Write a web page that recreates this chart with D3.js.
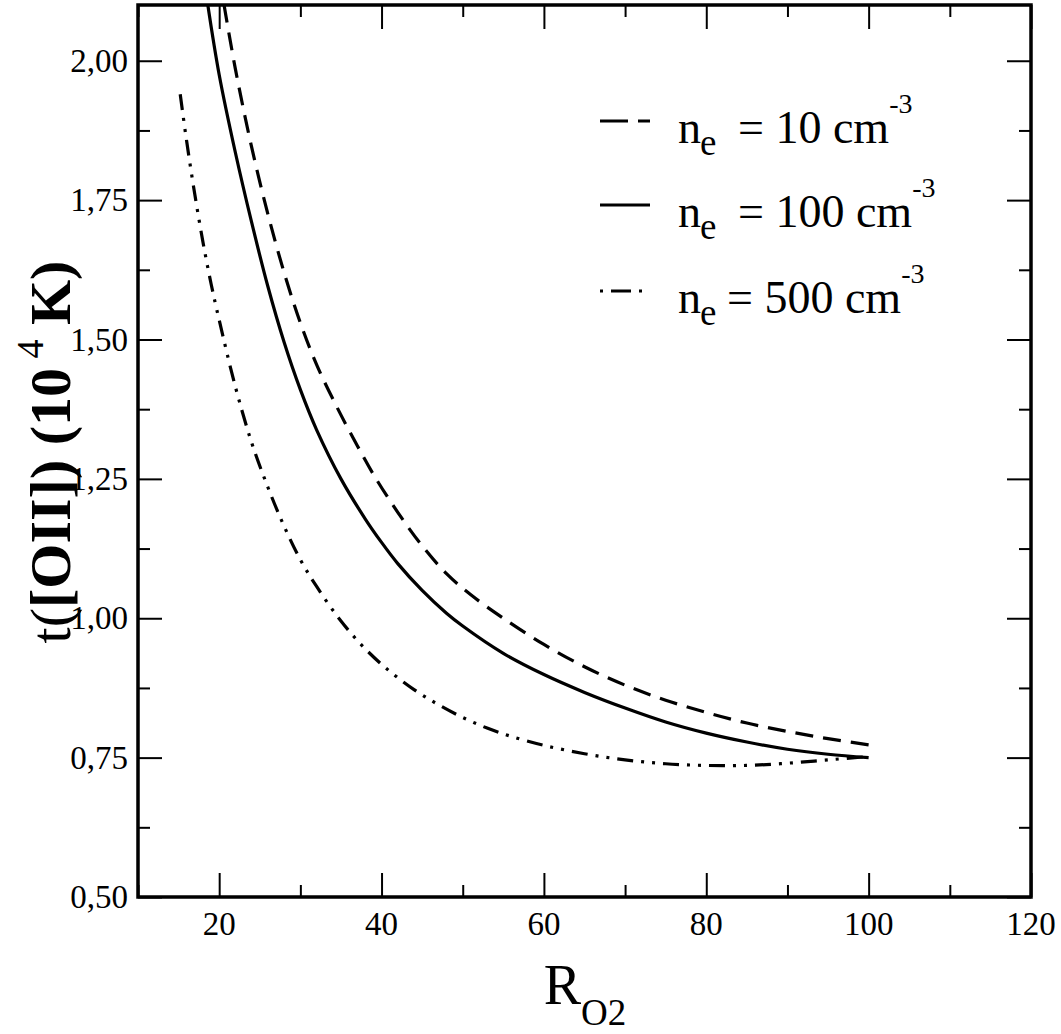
<!DOCTYPE html>
<html>
<head>
<meta charset="utf-8">
<script src="https://cdn.jsdelivr.net/npm/d3@7"></script>
<style>
  html, body { margin: 0; padding: 0; background: #fff; font-family: 'Liberation Serif', serif; }
  #chart text, #chart tspan { font-family: 'Liberation Serif', Tinos, 'Times New Roman', serif !important; }
</style>
</head>
<body>
<svg id="chart" width="1061" height="1034" font-family="Liberation Serif, serif" style="display:block;font-family:'Liberation Serif',serif"></svg>
<script>
// ---- data ----
const xDomain = [10, 120];
const yDomain = [0.5, 2.1];
const xMajorTicks = [20, 40, 60, 80, 100, 120];
const xMinorTicks = [10, 30, 50, 70, 90, 110];
const yMajorTicks = [0.5, 0.75, 1.0, 1.25, 1.5, 1.75, 2.0];
const yMinorTicks = [0.625, 0.875, 1.125, 1.375, 1.625, 1.875];
const yTickLabels = ["0,50", "0,75", "1,00", "1,25", "1,50", "1,75", "2,00"];

// n_e = 10 cm^-3 (dashed)
const ne10 = [
  [20.6, 2.10], [22, 1.985], [24, 1.845], [26, 1.725], [28, 1.62], [30, 1.53],
  [32, 1.455], [34.6, 1.376], [37, 1.31], [39, 1.258], [42, 1.19], [45, 1.13],
  [48, 1.08], [51, 1.042], [55, 1.0], [60, 0.953], [65, 0.913], [70, 0.88],
  [75, 0.853], [80, 0.831], [85, 0.812], [90, 0.797], [95, 0.784], [100, 0.773]
];
// n_e = 100 cm^-3 (solid)
const ne100 = [
  [18.6, 2.10], [20, 1.975], [22, 1.835], [24, 1.71], [26, 1.595], [28, 1.495],
  [30, 1.41], [32, 1.338], [35, 1.25], [38, 1.178], [40, 1.136], [42, 1.098],
  [45, 1.05], [48, 1.009], [50, 0.986], [55, 0.937], [60, 0.899], [65, 0.867],
  [70, 0.839], [75, 0.814], [80, 0.794], [85, 0.778], [90, 0.765], [95, 0.756],
  [100, 0.75]
];
// n_e = 500 cm^-3 (dash-dot-dot)
const ne500 = [
  [15.2, 1.94], [16, 1.855], [17, 1.76], [18, 1.675], [19, 1.60], [20, 1.535],
  [22, 1.415], [24, 1.315], [26, 1.235], [28, 1.165], [30, 1.105], [32, 1.057],
  [35, 0.995], [38, 0.945], [41, 0.905], [44, 0.872], [47, 0.845], [50, 0.822],
  [53, 0.803], [56, 0.788], [60, 0.772], [65, 0.757], [70, 0.746], [75, 0.739],
  [80, 0.736], [85, 0.736], [90, 0.740], [95, 0.746], [100, 0.752]
];

const seriesNames = ["10", "100", "500"];
const seriesData = [ne10, ne100, ne500];
const seriesDash = ["18,10", null, "16,8,3,8,3,8"];

function ff(sel) {
  sel.attr("font-family", "Liberation Serif, serif");
  sel.each(function () { this.style.setProperty("font-family", "'Liberation Serif', serif", "important"); });
  return sel;
}

// ---- layout ----
const svg = d3.select("#chart");
const pL = 138, pR = 1031, pT = 5, pB = 897;

const x = d3.scaleLinear().domain(xDomain).range([pL, pR]);
const y = d3.scaleLinear().domain(yDomain).range([pB, pT]);

svg.append("defs").append("clipPath").attr("id", "plotclip")
  .append("rect").attr("x", pL).attr("y", pT)
  .attr("width", pR - pL).attr("height", pB - pT);

// Ticks via d3 axes (inward); tick text removed
const major = 24, minor = 12;
function styleAxis(g) {
  g.select(".domain").remove();
  g.selectAll(".tick text").remove();
  g.attr("font-family", null).attr("font-size", null);
  g.selectAll(".tick line").attr("stroke", "#000").attr("stroke-width", 2);
}
function addAxis(axisFn, scale, ticks, size, tx, ty) {
  svg.append("g").attr("transform", `translate(${tx},${ty})`)
    .call(axisFn(scale).tickValues(ticks).tickSize(size).tickFormat(""))
    .call(styleAxis);
}
addAxis(d3.axisTop, x, xMajorTicks, major, 0, pB);
addAxis(d3.axisTop, x, xMinorTicks, minor, 0, pB);
addAxis(d3.axisBottom, x, xMajorTicks, major, 0, pT);
addAxis(d3.axisBottom, x, xMinorTicks, minor, 0, pT);
addAxis(d3.axisRight, y, yMajorTicks, major, pL, 0);
addAxis(d3.axisRight, y, yMinorTicks, minor, pL, 0);
addAxis(d3.axisLeft, y, yMajorTicks, major, pR, 0);
addAxis(d3.axisLeft, y, yMinorTicks, minor, pR, 0);

// tick labels
svg.selectAll("text.xt").data(xMajorTicks).join("text").attr("class", "xt")
  .attr("x", d => x(d)).attr("y", 935)
  .attr("text-anchor", "middle").attr("font-size", 33)
  .call(ff)
  .text(d => d);
svg.selectAll("text.yt").data(yMajorTicks).join("text").attr("class", "yt")
  .attr("x", 128).attr("y", d => y(d) + 11)
  .attr("text-anchor", "end").attr("font-size", 33)
  .call(ff)
  .text((d, i) => yTickLabels[i]);

// curves
const line = d3.line().x(d => x(d[0])).y(d => y(d[1])).curve(d3.curveCatmullRom.alpha(0.5));
const plot = svg.append("g").attr("clip-path", "url(#plotclip)");
seriesData.forEach((data, i) => {
  plot.append("path").datum(data)
    .attr("d", line)
    .attr("fill", "none").attr("stroke", "#000")
    .attr("stroke-width", 3.2)
    .attr("stroke-dasharray", seriesDash[i]);
});

// frame
svg.append("rect").attr("x", pL).attr("y", pT)
  .attr("width", pR - pL).attr("height", pB - pT)
  .attr("fill", "none").attr("stroke", "#000").attr("stroke-width", 3.5);

// legend
const legBase = [143, 227, 313];
const legEq = [738, 738, 727];
const legDash = ["28,10", null, "3,8,20,8,3,20"];
seriesNames.forEach((nm, i) => {
  const b = legBase[i];
  svg.append("line").attr("x1", 600).attr("x2", 650)
    .attr("y1", b - 22).attr("y2", b - 22)
    .attr("stroke", "#000").attr("stroke-width", 3.2)
    .attr("stroke-dasharray", legDash[i]);
  svg.append("text").attr("x", 678).attr("y", b).attr("font-size", 46).call(ff).text("n");
  svg.append("text").attr("x", 700).attr("y", b + 12).attr("font-size", 37).call(ff).text("e");
  const t = svg.append("text").attr("x", legEq[i]).attr("y", b).attr("font-size", 46).call(ff);
  t.append("tspan").call(ff).text("= " + nm + " cm");
  t.append("tspan").attr("dy", -30).attr("font-size", 28).call(ff).text("-3");
});

// axis titles
const xt = svg.append("text").attr("x", 585).attr("y", 1004)
  .attr("text-anchor", "middle").attr("font-size", 56).call(ff);
xt.append("tspan").call(ff).text("R");
xt.append("tspan").attr("dy", 21).attr("font-size", 37).call(ff).text("O2");

const yt = svg.append("text")
  .attr("transform", "translate(70,452) rotate(-90)")
  .attr("text-anchor", "middle").attr("font-size", 58).call(ff);
yt.append("tspan").call(ff).text("t(");
yt.append("tspan").attr("font-weight", "bold").call(ff).text("[OII]) (10");
yt.append("tspan").attr("dy", -27).attr("font-size", 38).call(ff).text(" 4");
yt.append("tspan").attr("dy", 27).attr("font-weight", "bold").call(ff).text(" K)");
</script>
</body>
</html>
